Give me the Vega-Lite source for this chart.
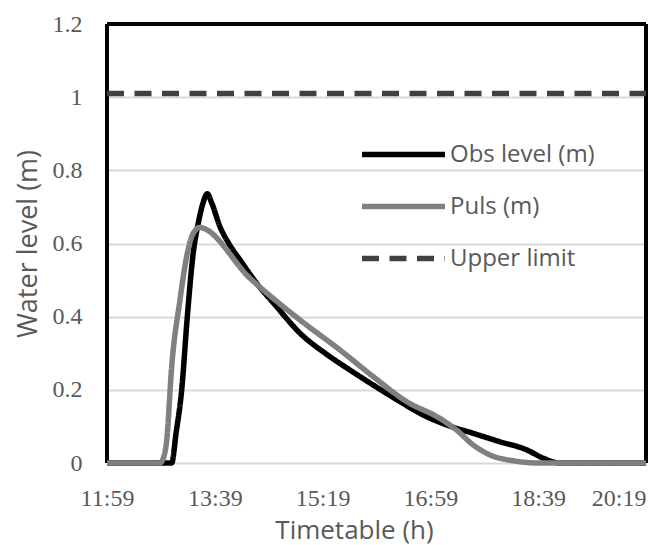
{
  "$schema": "https://vega.github.io/schema/vega-lite/v6.json",
  "width": 539,
  "height": 439,
  "autosize": {"type": "none"},
  "padding": {"left": 107, "top": 24, "right": 5, "bottom": 82},
  "background": "#ffffff",
  "config": {
    "view": {"stroke": null},
    "axis": {
      "labelFont": "Liberation Serif",
      "labelFontSize": 24,
      "labelColor": "#595959",
      "titleFont": "Open Sans",
      "titleFontWeight": "normal",
      "titleColor": "#595959",
      "ticks": false,
      "domain": false
    }
  },
  "data": {
    "values": [
      {"series": "Obs level (m)", "t": 719, "v": 0},
      {"series": "Obs level (m)", "t": 776, "v": 0},
      {"series": "Obs level (m)", "t": 779, "v": 0.0},
      {"series": "Obs level (m)", "t": 783, "v": 0.08},
      {"series": "Obs level (m)", "t": 788.3, "v": 0.2},
      {"series": "Obs level (m)", "t": 793.5, "v": 0.4},
      {"series": "Obs level (m)", "t": 799, "v": 0.574},
      {"series": "Obs level (m)", "t": 803.7, "v": 0.656},
      {"series": "Obs level (m)", "t": 808, "v": 0.71},
      {"series": "Obs level (m)", "t": 812, "v": 0.736},
      {"series": "Obs level (m)", "t": 816, "v": 0.712},
      {"series": "Obs level (m)", "t": 823.8, "v": 0.646},
      {"series": "Obs level (m)", "t": 832, "v": 0.6},
      {"series": "Obs level (m)", "t": 842.4, "v": 0.555},
      {"series": "Obs level (m)", "t": 857.9, "v": 0.491},
      {"series": "Obs level (m)", "t": 876.4, "v": 0.427},
      {"series": "Obs level (m)", "t": 898, "v": 0.355},
      {"series": "Obs level (m)", "t": 922.8, "v": 0.297},
      {"series": "Obs level (m)", "t": 944.4, "v": 0.254},
      {"series": "Obs level (m)", "t": 966, "v": 0.213},
      {"series": "Obs level (m)", "t": 990.8, "v": 0.168},
      {"series": "Obs level (m)", "t": 1012.4, "v": 0.131},
      {"series": "Obs level (m)", "t": 1034.1, "v": 0.104},
      {"series": "Obs level (m)", "t": 1058.8, "v": 0.081},
      {"series": "Obs level (m)", "t": 1083.6, "v": 0.058},
      {"series": "Obs level (m)", "t": 1108.3, "v": 0.036},
      {"series": "Obs level (m)", "t": 1123.7, "v": 0.013},
      {"series": "Obs level (m)", "t": 1139, "v": 0},
      {"series": "Obs level (m)", "t": 1219, "v": 0},
      {"series": "Puls (m)", "t": 719, "v": 0},
      {"series": "Puls (m)", "t": 768, "v": 0},
      {"series": "Puls (m)", "t": 770, "v": 0.005},
      {"series": "Puls (m)", "t": 774.4, "v": 0.063},
      {"series": "Puls (m)", "t": 779, "v": 0.263},
      {"series": "Puls (m)", "t": 786.7, "v": 0.446},
      {"series": "Puls (m)", "t": 792.9, "v": 0.564},
      {"series": "Puls (m)", "t": 797.6, "v": 0.619},
      {"series": "Puls (m)", "t": 801, "v": 0.636},
      {"series": "Puls (m)", "t": 804.3, "v": 0.644},
      {"series": "Puls (m)", "t": 851.7, "v": 0.505},
      {"series": "Puls (m)", "t": 898, "v": 0.391},
      {"series": "Puls (m)", "t": 935.1, "v": 0.309},
      {"series": "Puls (m)", "t": 966, "v": 0.236},
      {"series": "Puls (m)", "t": 996.9, "v": 0.168},
      {"series": "Puls (m)", "t": 1027.8, "v": 0.122},
      {"series": "Puls (m)", "t": 1043.3, "v": 0.09},
      {"series": "Puls (m)", "t": 1058.8, "v": 0.049},
      {"series": "Puls (m)", "t": 1074.3, "v": 0.022},
      {"series": "Puls (m)", "t": 1095.9, "v": 0.006},
      {"series": "Puls (m)", "t": 1120, "v": 0},
      {"series": "Puls (m)", "t": 1219, "v": 0},
      {"series": "Upper limit", "t": 719, "v": 1.01},
      {"series": "Upper limit", "t": 1219, "v": 1.01}
    ]
  },
  "layer": [
    {
      "mark": {"type": "rule", "color": "#000000", "strokeWidth": 2.5},
      "encoding": {"x": {"datum": 719, "type": "quantitative"}}
    },
    {
      "mark": {"type": "rule", "color": "#000000", "strokeWidth": 2.5},
      "encoding": {"x": {"datum": 1219, "type": "quantitative"}}
    },
    {
      "mark": {"type": "rule", "color": "#000000", "strokeWidth": 2.5},
      "encoding": {"y": {"datum": 1.2, "type": "quantitative"}}
    },
    {
      "mark": {"type": "line", "strokeCap": "butt", "strokeJoin": "round", "interpolate": "monotone"},
      "encoding": {
        "x": {
          "field": "t",
          "type": "quantitative",
          "scale": {"domain": [719, 1219], "nice": false, "zero": false},
          "axis": {
            "values": [719, 819, 919, 1019, 1119, 1219],
            "labelExpr": "format(floor(datum.value/60),'d') + ':' + format(datum.value % 60, '02d')",
            "grid": false,
            "labelPadding": 23,
            "labelAlign": {"condition": {"test": "datum.value == 1219", "value": "right"}, "value": "center"},
            "labelDx": {"condition": {"test": "datum.value == 1219", "value": 5}, "value": 0},
            "title": "Timetable (h)",
            "titleFontSize": 26,
            "titleX": 247,
            "titleY": 75,
            "titleAlign": "center",
            "titleBaseline": "alphabetic"
          }
        },
        "y": {
          "field": "v",
          "type": "quantitative",
          "scale": {"domain": [0, 1.2], "nice": false},
          "axis": {
            "values": [0, 0.2, 0.4, 0.6, 0.8, 1, 1.2],
            "format": "~g",
            "grid": true,
            "gridColor": "#d9d9d9",
            "gridWidth": 2,
            "labelPadding": 25,
            "title": "Water level (m)",
            "titleFontSize": 27,
            "titleX": -71,
            "titleY": 219.5,
            "titleAngle": -90,
            "titleAlign": "center",
            "titleBaseline": "alphabetic"
          }
        },
        "color": {
          "field": "series",
          "type": "nominal",
          "scale": {"domain": ["Obs level (m)", "Puls (m)", "Upper limit"], "range": ["#000000", "#808080", "#404040"]},
          "legend": {
            "orient": "none",
            "legendX": 273,
            "legendY": 107,
            "title": null,
            "padding": 0,
            "symbolType": "M-2,0H2",
            "symbolSize": 1722,
            "symbolStrokeWidth": 5,
            "labelOffset": 23,
            "rowPadding": 16,
            "labelFont": "Open Sans",
            "labelFontSize": 24,
            "labelColor": "#595959",
            "labelLimit": 400
          }
        },
        "strokeDash": {
          "field": "series",
          "type": "nominal",
          "scale": {"domain": ["Obs level (m)", "Puls (m)", "Upper limit"], "range": [[1, 0], [1, 0], [17, 10.5]]},
          "legend": {
            "orient": "none",
            "legendX": 273,
            "legendY": 107,
            "title": null,
            "padding": 0,
            "symbolType": "M-2,0H2",
            "symbolSize": 1722,
            "symbolStrokeWidth": 5,
            "labelOffset": 23,
            "rowPadding": 16,
            "labelFont": "Open Sans",
            "labelFontSize": 24,
            "labelColor": "#595959",
            "labelLimit": 400
          }
        },
        "strokeWidth": {
          "field": "series",
          "type": "nominal",
          "scale": {"domain": ["Obs level (m)", "Puls (m)", "Upper limit"], "range": [5.5, 5.5, 6.5]},
          "legend": null
        },
        "order": {"field": "t", "type": "quantitative"}
      }
    }
  ]
}
